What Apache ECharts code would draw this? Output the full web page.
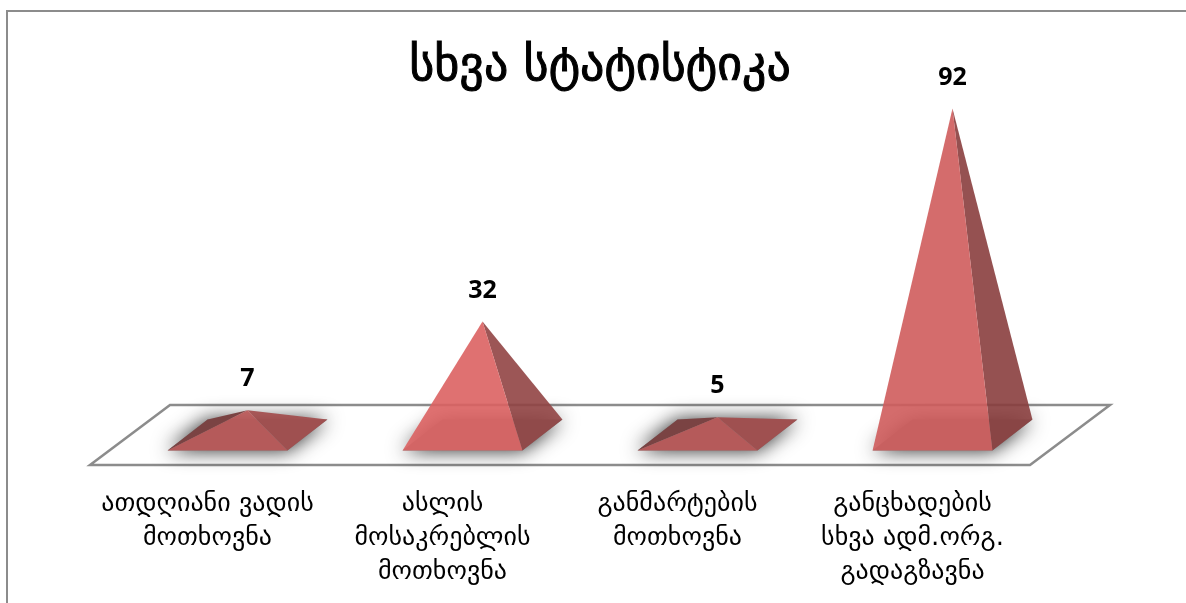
<!DOCTYPE html>
<html>
<head>
<meta charset="utf-8">
<style>
  html, body { margin: 0; padding: 0; background: #fff; }
  #chart { width: 1186px; height: 603px; }
</style>
<script src="https://cdn.jsdelivr.net/npm/echarts@6/dist/echarts.min.js"></script>
</head>
<body>
<div id="chart"></div>
<script>
const titleText = 'სხვა სტატისტიკა';
const categories = [
  'ათდღიანი ვადის\nმოთხოვნა',
  'ასლის\nმოსაკრებლის\nმოთხოვნა',
  'განმარტების\nმოთხოვნა',
  'განცხადების\nსხვა ადმ.ორგ.\nგადაგზავნა'
];
const values = [7, 32, 5, 92];

// face colours differ a bit per pyramid in the picture
const frontColors = ['rgba(186,85,85,0.9)', 'rgba(220,98,98,0.9)', 'rgba(186,85,85,0.9)', 'rgba(207,92,92,0.9)'];
const sideColors = ['rgba(162,74,74,0.9)', 'rgba(145,68,68,0.9)', 'rgba(162,74,74,0.9)', 'rgba(137,62,62,0.9)'];

const GEORGIAN_FONT = '"DejaVu Sans", "Noto Sans", sans-serif';
const NUMBER_FONT = '"Open Sans", "Noto Sans", sans-serif';

// 3D-like floor: how far the back edge is shifted from the front edge
const FLOOR_DX = 80;
const FLOOR_DY = 60;
const FLOOR_LINE = '#8c8c8c';

const chart = echarts.init(document.getElementById('chart'));

// floor plate, built from the grid rect
function renderFloor(params, api) {
  const cs = params.coordSys;
  const bottom = cs.y + cs.height;
  return {
    type: 'polygon',
    shape: {
      points: [
        [cs.x, bottom],
        [cs.x + cs.width, bottom],
        [cs.x + cs.width + FLOOR_DX, bottom - FLOOR_DY],
        [cs.x + FLOOR_DX, bottom - FLOOR_DY]
      ]
    },
    style: { fill: '#fff', stroke: FLOOR_LINE, lineWidth: 2.5 }
  };
}

// one pyramid per category, the apex comes from the value scale
function renderPyramid(params, api) {
  const i = api.value(0);
  const v = api.value(1);
  const foot = api.coord([i, 0]);
  const top = api.coord([i, v]);
  const halfW = api.size([1, 0])[0] * 0.255;

  // centre of the base sits halfway into the floor
  const cx = foot[0] + FLOOR_DX / 2;
  const cy = foot[1] - FLOOR_DY / 2;
  const depthX = 20;
  const depthY = 15.5;

  const fl = [cx - halfW - depthX, cy + depthY];
  const fr = [cx + halfW - depthX, cy + depthY];
  const br = [cx + halfW + depthX, cy - depthY];
  const bl = [cx - halfW + depthX, cy - depthY];
  const apex = [cx, top[1] - FLOOR_DY / 2];

  const children = [
    {
      type: 'polygon',
      shape: { points: [fl, fr, br, bl] },
      style: { fill: '#808080', shadowBlur: 20, shadowColor: 'rgba(0,0,0,0.85)' }
    }
  ];

  // the back-left face only shows on the flat pyramids
  const riseLeft = (fl[1] - apex[1]) / (apex[0] - fl[0]);
  const riseBack = (fl[1] - bl[1]) / (bl[0] - fl[0]);
  if (riseLeft < riseBack) {
    children.push({
      type: 'polygon',
      shape: { points: [fl, bl, apex] },
      style: { fill: '#7a4343' }
    });
  }

  children.push(
    {
      type: 'polygon',
      shape: { points: [fr, br, apex] },
      style: { fill: sideColors[i] }
    },
    {
      type: 'polygon',
      shape: { points: [fl, fr, apex] },
      style: { fill: frontColors[i] }
    },
    {
      type: 'text',
      style: {
        x: apex[0],
        y: apex[1] - 31,
        text: String(v),
        align: 'center',
        verticalAlign: 'middle',
        fill: '#000',
        font: 'bold 25px ' + NUMBER_FONT
      }
    }
  );

  return { type: 'group', children: children };
}

chart.setOption({
  animation: false,
  backgroundColor: '#fff',
  title: {
    text: titleText,
    left: 595,
    top: 39,
    textAlign: 'center',
    textStyle: {
      fontFamily: GEORGIAN_FONT,
      fontSize: 48,
      fontWeight: 'normal',
      color: '#000',
      textBorderColor: '#000',
      textBorderWidth: 1
    }
  },
  // frame only runs along the left and top of the picture
  graphic: [
    {
      type: 'polyline',
      silent: true,
      shape: { points: [[7, 603], [7, 11], [1186, 11]] },
      style: { fill: 'none', stroke: '#8c8c8c', lineWidth: 2 }
    }
  ],
  grid: { left: 90, width: 940, top: 110, height: 355 },
  xAxis: {
    type: 'category',
    data: categories,
    axisLine: { show: false },
    axisTick: { show: false },
    axisLabel: {
      interval: 0,
      margin: 22,
      fontFamily: GEORGIAN_FONT,
      fontSize: 26,
      lineHeight: 34,
      color: '#000'
    }
  },
  yAxis: {
    type: 'value',
    min: 0,
    max: 100,
    show: false
  },
  series: [
    {
      type: 'custom',
      name: 'floor',
      z: 1,
      silent: true,
      renderItem: renderFloor,
      data: [0]
    },
    {
      type: 'custom',
      name: 'სხვა სტატისტიკა',
      z: 2,
      renderItem: renderPyramid,
      encode: { x: 0, y: 1 },
      data: values.map((v, i) => [i, v])
    }
  ]
});
</script>
</body>
</html>
